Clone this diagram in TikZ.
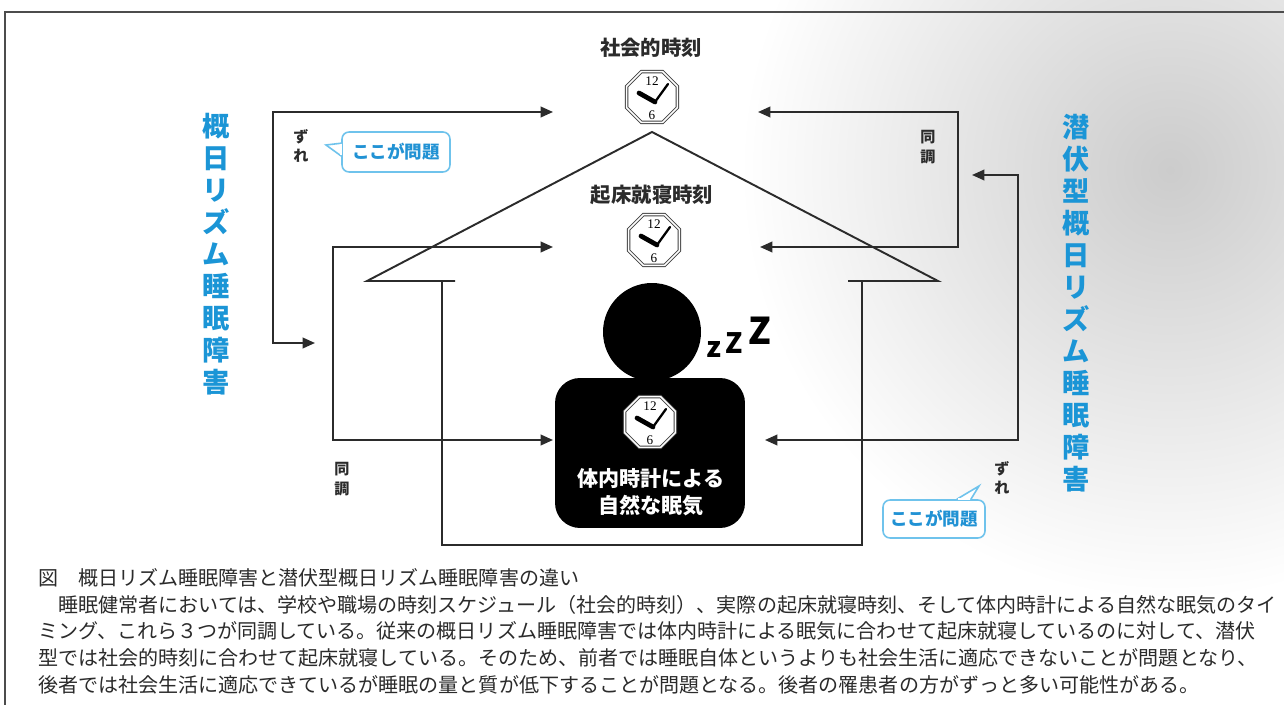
\documentclass[tikz,border=0pt]{standalone}
\usepackage{fontspec}
\setmainfont{Noto Sans CJK JP}
\newfontfamily\numfont{Liberation Serif}
\usetikzlibrary{arrows.meta,shapes.geometric}
\definecolor{ink}{HTML}{2B2B2B}
\definecolor{title}{HTML}{1B95D6}
\definecolor{callout}{HTML}{6FC3EC}
\definecolor{calltext}{HTML}{2192D4}

\tikzset{
  link/.style={draw=ink,line width=1.1pt,{Triangle[length=7pt,width=6pt]}-{Triangle[length=7pt,width=6pt]}},
  house/.style={draw=ink,line width=1.1pt},
  heading/.style={font=\fontsize{11.6pt}{13pt}\selectfont\bfseries,text=ink,inner sep=0pt},
  vtitle/.style={text=title,align=center,inner sep=0pt,font=\fontsize{15.5pt}{18.2pt}\selectfont\bfseries},
  vnote/.style={text=ink,align=center,inner sep=0pt,font=\fontsize{8.6pt}{11pt}\selectfont\bfseries},
  problem/.style={draw=callout,fill=white,line width=0.9pt,rounded corners=4pt,text=calltext,font=\fontsize{10pt}{10pt}\selectfont\bfseries},
  pics/clockface/.style={code={
    \node[regular polygon,regular polygon sides=8,minimum size=1.1cm,fill=white,draw=black!75,line width=0.5pt,double=white,double distance=0.9pt,inner sep=0pt] (-face) {};
    \node[font=\numfont\fontsize{7.5pt}{7.5pt}\selectfont,inner sep=0pt] (-twelve) at (0,-16) {12};
    \node[font=\numfont\fontsize{7.5pt}{7.5pt}\selectfont,inner sep=0pt] (-six) at (0,18) {6};
    \draw[line width=2.7pt,line cap=round] (3,5) -- (-13,-4);
    \draw[line width=1.3pt,line cap=round] (3,5) -- (16,-13);
  }}
}

\begin{document}
\begin{tikzpicture}[x=0.02cm,y=-0.02cm]
\useasboundingbox (0,0) rectangle (1284,705);
\fill[white] (0,0) rectangle (1284,705);

% soft grey backdrop on the right
\begin{scope}
\clip (5,0) rectangle (1284,600);
\shade[inner color=black!20,outer color=white] (1170,170) circle (430);
\end{scope}

% frame
\draw[black!70,line width=1.6pt] (1284,12) -- (5,12) -- (5,705);

% house
\draw[house] (455,281) -- (367,281) -- (652,132) -- (938,281) -- (848,281);
\draw[house] (442,281) -- (442,545) -- (862,545) -- (862,281);

% clocks
\node[heading] (social) at (651,48) {社会的時刻};
\pic (clockA) at (652,97) {clockface};
\node[heading] (wake) at (652,195) {起床就寝時刻};
\pic (clockB) at (654,240) {clockface};

% sleeper
\node[fill=black,rounded corners=0.5cm,minimum width=3.8cm,minimum height=3cm] (body) at (650,453) {};
\node[circle,fill=black,minimum size=1.96cm,inner sep=0pt] (head) at (652,332) {};
\pic (clockC) at (650,422) {clockface};
\node[text=white,align=center,inner sep=0pt,font=\fontsize{12pt}{15.4pt}\selectfont\bfseries] (inner) at (651,492) {体内時計による\\自然な眠気};
\node[inner sep=0pt,font=\fontsize{16pt}{16pt}\selectfont\bfseries] (z1) at (714,350) {z};
\node[inner sep=0pt,font=\fontsize{16pt}{16pt}\selectfont\bfseries] (z2) at (734,343) {Z};
\node[inner sep=0pt,font=\fontsize{21pt}{21pt}\selectfont\bfseries] (z3) at (760,331) {Z};

% arrow ends
\coordinate (lzA) at (315,343);
\coordinate (lzB) at (553,112);
\coordinate (ldA) at (553,247);
\coordinate (ldB) at (553,440);
\coordinate (rdA) at (758,112);
\coordinate (rdB) at (760,247);
\coordinate (rzA) at (972,175);
\coordinate (rzB) at (765,440);

\draw[link] (lzA) -- ++(-42,0) |- (lzB);
\draw[link] (ldA) -- ++(-220,0) |- (ldB);
\draw[link] (rdA) -- ++(200,0) |- (rdB);
\draw[link] (rzA) -- ++(46,0) |- (rzB);

% side titles
\node[vtitle] (leftT) at (216,254) {概\\日\\リ\\ズ\\ム\\睡\\眠\\障\\害};
\node[vtitle] (rightT) at (1076,303) {潜\\伏\\型\\概\\日\\リ\\ズ\\ム\\睡\\眠\\障\\害};

% small labels
\node[vnote] (shiftL) at (301,146) {ず\\れ};
\node[vnote] (syncR) at (928,147) {同\\調};
\node[vnote] (syncL) at (342,479) {同\\調};
\node[vnote] (shiftR) at (1002,478) {ず\\れ};

% callouts
\node[problem,minimum width=2.16cm,minimum height=0.8cm] (issueL) at (396,152) {ここが問題};
\filldraw[draw=callout,fill=white,line width=0.9pt,line join=miter] ([yshift=5pt]issueL.west) -- (326,145) -- ([yshift=-2.3pt]issueL.west);
\draw[white,line width=1.4pt] ([yshift=4.4pt]issueL.west) -- ([yshift=-1.7pt]issueL.west);
\node[problem,minimum width=2.04cm,minimum height=0.76cm] (issueR) at (934,519) {ここが問題};
\filldraw[draw=callout,fill=white,line width=0.9pt,line join=miter] ([xshift=13pt]issueR.north) -- (979,486) -- ([xshift=21pt]issueR.north);
\draw[white,line width=1.4pt] ([xshift=13.6pt]issueR.north) -- ([xshift=20.4pt]issueR.north);

% caption
\node[anchor=north west,align=left,inner sep=0pt,text=ink,font=\fontsize{11.4pt}{15.2pt}\selectfont] (caption) at (38,568) {図　概日リズム睡眠障害と潜伏型概日リズム睡眠障害の違い\\
　睡眠健常者においては、学校や職場の時刻スケジュール（社会的時刻）、実際の起床就寝時刻、そして体内時計による自然な眠気のタイ\\
ミング、これら３つが同調している。従来の概日リズム睡眠障害では体内時計による眠気に合わせて起床就寝しているのに対して、潜伏\\
型では社会的時刻に合わせて起床就寝している。そのため、前者では睡眠自体というよりも社会生活に適応できないことが問題となり、\\
後者では社会生活に適応できているが睡眠の量と質が低下することが問題となる。後者の罹患者の方がずっと多い可能性がある。};
\end{tikzpicture}
\end{document}
